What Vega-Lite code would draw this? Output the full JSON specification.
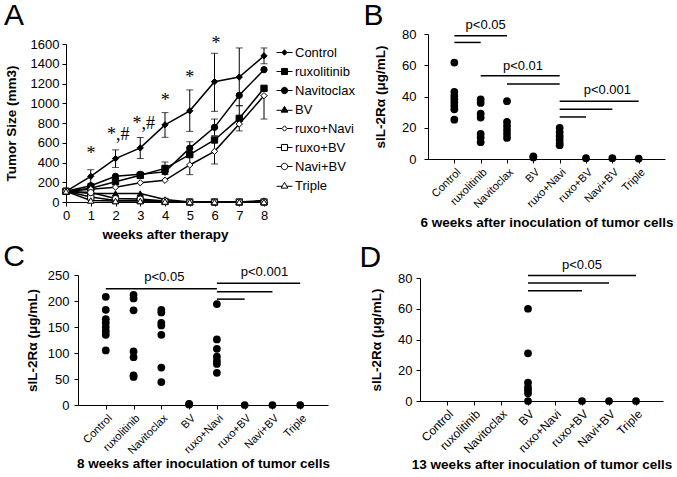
{
"$schema": "https://vega.github.io/schema/vega-lite/v6.json",
"padding": {"left": 0, "top": 0, "right": 0, "bottom": 0},
"background": "white",
"config": {
 "font": "Liberation Sans",
 "view": {"stroke": null},
 "axis": {"grid": false, "domainColor": "black", "tickColor": "black", "labelColor": "black", "titleColor": "black", "labelFontSize": 13, "titleFontSize": 13.5, "titleFontWeight": "bold", "labelFont": "Liberation Sans", "titleFont": "Liberation Sans", "labelFlush": false, "labelOverlap": false, "tickSize": 4},
 "title": {"font": "Liberation Sans", "fontSize": 30, "fontWeight": "normal", "anchor": "start", "frame": "bounds", "color": "black"},
 "legend": {"labelFont": "Liberation Sans", "labelColor": "black"}
},
"datasets": {
 "tumor": [
  {"s":"Control","w":0,"v":108},{"s":"Control","w":1,"v":260},{"s":"Control","w":2,"v":440},{"s":"Control","w":3,"v":548},{"s":"Control","w":4,"v":781},{"s":"Control","w":5,"v":923},{"s":"Control","w":6,"v":1218},{"s":"Control","w":7,"v":1265},{"s":"Control","w":8,"v":1480},
  {"s":"ruxolitinib","w":0,"v":108},{"s":"ruxolitinib","w":1,"v":140},{"s":"ruxolitinib","w":2,"v":205},{"s":"ruxolitinib","w":3,"v":270},{"s":"ruxolitinib","w":4,"v":340},{"s":"ruxolitinib","w":5,"v":480},{"s":"ruxolitinib","w":6,"v":628},{"s":"ruxolitinib","w":7,"v":847},{"s":"ruxolitinib","w":8,"v":1151},
  {"s":"Navitoclax","w":0,"v":108},{"s":"Navitoclax","w":1,"v":165},{"s":"Navitoclax","w":2,"v":260},{"s":"Navitoclax","w":3,"v":280},{"s":"Navitoclax","w":4,"v":305},{"s":"Navitoclax","w":5,"v":545},{"s":"Navitoclax","w":6,"v":756},{"s":"Navitoclax","w":7,"v":1080},{"s":"Navitoclax","w":8,"v":1340},
  {"s":"BV","w":0,"v":108},{"s":"BV","w":1,"v":85},{"s":"BV","w":2,"v":85},{"s":"BV","w":3,"v":85},{"s":"BV","w":4,"v":25},{"s":"BV","w":5,"v":0},{"s":"BV","w":6,"v":0},{"s":"BV","w":7,"v":0},{"s":"BV","w":8,"v":15},
  {"s":"ruxo+Navi","w":0,"v":108},{"s":"ruxo+Navi","w":1,"v":130},{"s":"ruxo+Navi","w":2,"v":150},{"s":"ruxo+Navi","w":3,"v":195},{"s":"ruxo+Navi","w":4,"v":220},{"s":"ruxo+Navi","w":5,"v":375},{"s":"ruxo+Navi","w":6,"v":513},{"s":"ruxo+Navi","w":7,"v":790},{"s":"ruxo+Navi","w":8,"v":1077},
  {"s":"ruxo+BV","w":0,"v":108},{"s":"ruxo+BV","w":1,"v":50},{"s":"ruxo+BV","w":2,"v":15},{"s":"ruxo+BV","w":3,"v":15},{"s":"ruxo+BV","w":4,"v":5},{"s":"ruxo+BV","w":5,"v":0},{"s":"ruxo+BV","w":6,"v":0},{"s":"ruxo+BV","w":7,"v":0},{"s":"ruxo+BV","w":8,"v":0},
  {"s":"Navi+BV","w":0,"v":108},{"s":"Navi+BV","w":1,"v":95},{"s":"Navi+BV","w":2,"v":35},{"s":"Navi+BV","w":3,"v":30},{"s":"Navi+BV","w":4,"v":10},{"s":"Navi+BV","w":5,"v":0},{"s":"Navi+BV","w":6,"v":0},{"s":"Navi+BV","w":7,"v":0},{"s":"Navi+BV","w":8,"v":0},
  {"s":"Triple","w":0,"v":108},{"s":"Triple","w":1,"v":15},{"s":"Triple","w":2,"v":10},{"s":"Triple","w":3,"v":10},{"s":"Triple","w":4,"v":5},{"s":"Triple","w":5,"v":0},{"s":"Triple","w":6,"v":0},{"s":"Triple","w":7,"v":0},{"s":"Triple","w":8,"v":0}
 ],
 "tumorErr": [
  {"s":"Control","w":1,"lo":185,"hi":327},{"s":"Control","w":2,"lo":350,"hi":528},{"s":"Control","w":3,"lo":440,"hi":653},{"s":"Control","w":4,"lo":655,"hi":905},{"s":"Control","w":5,"lo":715,"hi":1135},{"s":"Control","w":6,"lo":918,"hi":1506},{"s":"Control","w":7,"lo":975,"hi":1560},{"s":"Control","w":8,"lo":1400,"hi":1560},
  {"s":"ruxolitinib","w":4,"lo":280,"hi":405},{"s":"ruxolitinib","w":7,"lo":720,"hi":975},
  {"s":"Navitoclax","w":5,"lo":480,"hi":610},{"s":"Navitoclax","w":6,"lo":672,"hi":840},
  {"s":"ruxo+Navi","w":5,"lo":277,"hi":475},{"s":"ruxo+Navi","w":6,"lo":385,"hi":640},{"s":"ruxo+Navi","w":8,"lo":840,"hi":1077}
 ],
 "stars": [
  {"w":1.01,"v":513,"t":"*"},{"w":2.11,"v":706,"t":"*,#"},{"w":3.14,"v":823,"t":"*,#"},{"w":4.01,"v":1050,"t":"*"},{"w":5.0,"v":1286,"t":"*"},{"w":6.06,"v":1633,"t":"*"}
 ],
 "B": [
  {"g":"Control","v":61.7},{"g":"Control","v":43},{"g":"Control","v":40.4},{"g":"Control","v":38.3},{"g":"Control","v":36.1},{"g":"Control","v":34},{"g":"Control","v":31.8},{"g":"Control","v":25.2},
  {"g":"ruxolitinib","v":38.1},{"g":"ruxolitinib","v":35.9},{"g":"ruxolitinib","v":29},{"g":"ruxolitinib","v":26.5},{"g":"ruxolitinib","v":16.1},{"g":"ruxolitinib","v":13.8},{"g":"ruxolitinib","v":10.8},
  {"g":"Navitoclax","v":37},{"g":"Navitoclax","v":23.7},{"g":"Navitoclax","v":21.1},{"g":"Navitoclax","v":18.5},{"g":"Navitoclax","v":16.1},{"g":"Navitoclax","v":13.5},
  {"g":"BV","v":1.7},{"g":"BV","v":1.0},
  {"g":"ruxo+Navi","v":20},{"g":"ruxo+Navi","v":17.2},{"g":"ruxo+Navi","v":14.6},{"g":"ruxo+Navi","v":12.5},{"g":"ruxo+Navi","v":10.3},{"g":"ruxo+Navi","v":8.8},
  {"g":"ruxo+BV","v":0.5},{"g":"Navi+BV","v":0.5},{"g":"Triple","v":0.3}
 ],
 "Bsig": [
  {"g":"Control","b":"ruxolitinib","v":74.6},{"g":"Control","b":"Navitoclax","v":78.9},{"g":"ruxolitinib","b":"ruxo+Navi","v":53.3},{"g":"Navitoclax","b":"ruxo+Navi","v":48},{"g":"ruxo+Navi","b":"Triple","v":37},{"g":"ruxo+Navi","b":"Navi+BV","v":31.8},{"g":"ruxo+Navi","b":"ruxo+BV","v":26.9}
 ],
 "C": [
  {"g":"Control","v":208},{"g":"Control","v":183},{"g":"Control","v":165},{"g":"Control","v":158},{"g":"Control","v":150},{"g":"Control","v":142},{"g":"Control","v":135},{"g":"Control","v":105},
  {"g":"ruxolitinib","v":212},{"g":"ruxolitinib","v":205},{"g":"ruxolitinib","v":182},{"g":"ruxolitinib","v":103},{"g":"ruxolitinib","v":92},{"g":"ruxolitinib","v":57},{"g":"ruxolitinib","v":54},
  {"g":"Navitoclax","v":183},{"g":"Navitoclax","v":178},{"g":"Navitoclax","v":158},{"g":"Navitoclax","v":153},{"g":"Navitoclax","v":135},{"g":"Navitoclax","v":72},{"g":"Navitoclax","v":44},
  {"g":"BV","v":2},{"g":"BV","v":1},
  {"g":"ruxo+Navi","v":194},{"g":"ruxo+Navi","v":126},{"g":"ruxo+Navi","v":108},{"g":"ruxo+Navi","v":93},{"g":"ruxo+Navi","v":85},{"g":"ruxo+Navi","v":79},{"g":"ruxo+Navi","v":62},
  {"g":"ruxo+BV","v":0},{"g":"Navi+BV","v":0},{"g":"Triple","v":0}
 ],
 "Csig": [
  {"g":"Control","b":"ruxo+Navi","v":223.5},{"g":"ruxo+Navi","b":"Triple","v":234},{"g":"ruxo+Navi","b":"Navi+BV","v":218},{"g":"ruxo+Navi","b":"ruxo+BV","v":203.6}
 ],
 "D": [
  {"g":"BV","v":60},{"g":"BV","v":31},{"g":"BV","v":12},{"g":"BV","v":9},{"g":"BV","v":7},{"g":"BV","v":5},{"g":"BV","v":0},
  {"g":"ruxo+BV","v":0},{"g":"Navi+BV","v":0},{"g":"Triple","v":0}
 ],
 "Dsig": [
  {"g":"BV","b":"Triple","v":81.7},{"g":"BV","b":"Navi+BV","v":76.7},{"g":"BV","b":"ruxo+BV","v":71.7}
 ]
},
"spacing": -12,
"vconcat": [
 {"hconcat": [
  {"hconcat": [
   {"width": 1, "height": 1, "data": {"values": []}, "mark": "point", "encoding": {}},
   {"vconcat": [
    {"width": 1, "height": 1, "data": {"values": []}, "mark": "point", "encoding": {}},
    {
     "title": {"text": "A", "offset": 3.5},
     "width": 198, "height": 158,
     "encoding": {
      "x": {"field": "w", "type": "quantitative", "scale": {"domain": [0, 8], "nice": false}, "axis": {"values": [0,1,2,3,4,5,6,7,8], "title": "weeks after therapy", "labelPadding": 3, "titlePadding": 5}},
      "y": {"field": "v", "type": "quantitative", "scale": {"domain": [0, 1600], "nice": false}, "axis": {"values": [0,200,400,600,800,1000,1200,1400,1600], "format": "d", "title": "Tumor Size (mm3)", "labelPadding": 3, "titlePadding": 12}}
     },
     "layer": [
      {"data": {"name": "tumorErr"}, "mark": {"type": "rule", "color": "black", "strokeWidth": 1}, "encoding": {"y": {"field": "lo", "type": "quantitative", "title": "Tumor Size (mm3)"}, "y2": {"field": "hi"}}},
      {"data": {"name": "tumorErr"}, "mark": {"type": "tick", "orient": "horizontal", "size": 7, "thickness": 1, "color": "black"}, "encoding": {"y": {"field": "lo", "type": "quantitative", "title": "Tumor Size (mm3)"}}},
      {"data": {"name": "tumorErr"}, "mark": {"type": "tick", "orient": "horizontal", "size": 7, "thickness": 1, "color": "black"}, "encoding": {"y": {"field": "hi", "type": "quantitative", "title": "Tumor Size (mm3)"}}},
      {"data": {"name": "tumor"}, "mark": {"type": "line", "color": "black", "strokeWidth": 1.5}, "encoding": {"detail": {"field": "s", "type": "nominal"}}},
      {"data": {"name": "tumor"}, "mark": {"type": "point", "filled": true, "stroke": "black", "strokeWidth": 1, "size": 40, "opacity": 1},
       "encoding": {
        "shape": {"field": "s", "type": "nominal", "scale": {"domain": ["Control","ruxolitinib","Navitoclax","BV","ruxo+Navi","ruxo+BV","Navi+BV","Triple"], "range": ["diamond","square","circle","triangle-up","diamond","square","circle","triangle-up"]}, "legend": null},
        "fill": {"field": "s", "type": "nominal", "scale": {"domain": ["Control","ruxolitinib","Navitoclax","BV","ruxo+Navi","ruxo+BV","Navi+BV","Triple"], "range": ["black","black","black","black","white","white","white","white"]}, "legend": null}
       }},
      {"data": {"values": []}, "mark": {"type": "point", "filled": true, "stroke": "black", "strokeWidth": 1, "opacity": 1},
       "encoding": {
        "shape": {"field": "s", "type": "nominal", "scale": {"domain": ["Control","ruxolitinib","Navitoclax","BV","ruxo+Navi","ruxo+BV","Navi+BV","Triple"], "range": [
          "M-1,0H-0.32M0.32,0H1M0,-0.34L0.32,0L0,0.34L-0.32,0Z",
          "M-1,0H-0.38M0.38,0H1M-0.38,-0.38H0.38V0.38H-0.38Z",
          "M-1,0H-0.4M0.4,0H1M-0.4,0A0.4,0.4,0,1,0,0.4,0A0.4,0.4,0,1,0,-0.4,0Z",
          "M-1,0.1H-0.28M0.28,0.1H1M0,-0.4L0.42,0.33L-0.42,0.33Z",
          "M-1,0H-0.32M0.32,0H1M0,-0.34L0.32,0L0,0.34L-0.32,0Z",
          "M-1,0H-0.38M0.38,0H1M-0.38,-0.38H0.38V0.38H-0.38Z",
          "M-1,0H-0.4M0.4,0H1M-0.4,0A0.4,0.4,0,1,0,0.4,0A0.4,0.4,0,1,0,-0.4,0Z",
          "M-1,0.1H-0.28M0.28,0.1H1M0,-0.4L0.42,0.33L-0.42,0.33Z"]},
         "legend": {"title": null, "orient": "right", "offset": 9, "padding": 0, "labelFontSize": 13, "symbolSize": 256, "rowPadding": 3, "labelOffset": 2, "symbolStrokeWidth": 1}},
        "fill": {"field": "s", "type": "nominal", "scale": {"domain": ["Control","ruxolitinib","Navitoclax","BV","ruxo+Navi","ruxo+BV","Navi+BV","Triple"], "range": ["black","black","black","black","white","white","white","white"]},
         "legend": {"title": null, "orient": "right", "offset": 9, "padding": 0, "labelFontSize": 13, "symbolSize": 256, "rowPadding": 3, "labelOffset": 2, "symbolStrokeWidth": 1}}
       }},
      {"data": {"name": "stars"}, "mark": {"type": "text", "font": "Liberation Serif", "fontSize": 18, "baseline": "middle", "dy": 3, "color": "black"}, "encoding": {"text": {"field": "t"}}}
     ],
     "resolve": {"scale": {"shape": "independent", "fill": "independent"}}
    }
   ], "spacing": 0}
  ], "spacing": 3},
  {"vconcat": [
   {"width": 1, "height": 1, "data": {"values": []}, "mark": "point", "encoding": {}},
   {
    "title": {"text": "B", "offset": -12.5, "dx": -10},
    "width": 237, "height": 125,
    "encoding": {
     "x": {"field": "g", "type": "nominal", "scale": {"type": "point", "domain": ["Control","ruxolitinib","Navitoclax","BV","ruxo+Navi","ruxo+BV","Navi+BV","Triple"], "padding": 1}, "axis": {"title": "6 weeks after inoculation of tumor cells", "labelAngle": -45, "labelFontSize": 11, "labelPadding": 3, "titlePadding": 6}},
     "y": {"field": "v", "type": "quantitative", "scale": {"domain": [0, 80], "nice": false}, "axis": {"values": [0,20,40,60,80], "title": "sIL-2Rα (μg/mL)", "labelPadding": 8, "titlePadding": 14}}
    },
    "layer": [
     {"data": {"name": "Bsig"}, "mark": {"type": "rule", "color": "black", "strokeWidth": 1.5}, "encoding": {"x2": {"field": "b"}}},
     {"data": {"name": "B"}, "mark": {"type": "circle", "size": 60, "color": "black", "opacity": 1}},
     {"data": {"values": [{"g": "ruxolitinib", "v": 86, "t": "p<0.05"}]}, "mark": {"type": "text", "fontSize": 13, "dx": 5, "color": "black"}, "encoding": {"text": {"field": "t"}}},
     {"data": {"values": [{"g": "Navitoclax", "v": 59.8, "t": "p<0.01"}]}, "mark": {"type": "text", "fontSize": 13, "dx": 16, "color": "black"}, "encoding": {"text": {"field": "t"}}},
     {"data": {"values": [{"g": "Navi+BV", "v": 44, "t": "p<0.001"}]}, "mark": {"type": "text", "fontSize": 13, "dx": -5, "color": "black"}, "encoding": {"text": {"field": "t"}}}
    ]
   }
  ], "spacing": 0}
 ], "spacing": 8},
 {"hconcat": [
  {"hconcat": [
   {"width": 1, "height": 1, "data": {"values": []}, "mark": "point", "encoding": {}},
   {"vconcat": [
    {"width": 1, "height": 1, "data": {"values": []}, "mark": "point", "encoding": {}},
    {
     "title": {"text": "C", "offset": -6, "dx": -22},
     "width": 250, "height": 130,
     "encoding": {
      "x": {"field": "g", "type": "nominal", "scale": {"type": "point", "domain": ["Control","ruxolitinib","Navitoclax","BV","ruxo+Navi","ruxo+BV","Navi+BV","Triple"], "padding": 1}, "axis": {"title": "8 weeks after inoculation of tumor cells", "labelAngle": -45, "labelFontSize": 11, "labelPadding": 3, "titlePadding": 1}},
      "y": {"field": "v", "type": "quantitative", "scale": {"domain": [0, 250], "nice": false}, "axis": {"values": [0,50,100,150,200,250], "title": "sIL-2Rα (μg/mL)", "labelPadding": 5, "titlePadding": 8}}
     },
     "layer": [
      {"data": {"name": "Csig"}, "mark": {"type": "rule", "color": "black", "strokeWidth": 1.5}, "encoding": {"x2": {"field": "b"}}},
      {"data": {"name": "C"}, "mark": {"type": "circle", "size": 60, "color": "black", "opacity": 1}},
      {"data": {"values": [{"g": "Navitoclax", "v": 247, "t": "p<0.05"}]}, "mark": {"type": "text", "fontSize": 13, "dx": 3, "color": "black"}, "encoding": {"text": {"field": "t"}}},
      {"data": {"values": [{"g": "Navi+BV", "v": 255, "t": "p<0.001"}]}, "mark": {"type": "text", "fontSize": 13, "dx": -8, "color": "black"}, "encoding": {"text": {"field": "t"}}}
     ]
    }
   ], "spacing": 0}
  ], "spacing": 2},
  {"vconcat": [
   {"width": 1, "height": 1, "data": {"values": []}, "mark": "point", "encoding": {}},
   {
    "title": {"text": "D", "offset": -14, "dx": -10},
    "width": 243, "height": 123,
    "encoding": {
     "x": {"field": "g", "type": "nominal", "scale": {"type": "point", "domain": ["Control","ruxolitinib","Navitoclax","BV","ruxo+Navi","ruxo+BV","Navi+BV","Triple"], "padding": 1}, "axis": {"title": "13 weeks after inoculation of tumor cells", "labelAngle": -45, "labelFontSize": 12, "labelPadding": 3, "titlePadding": 3}},
     "y": {"field": "v", "type": "quantitative", "scale": {"domain": [0, 80], "nice": false}, "axis": {"values": [0,20,40,60,80], "title": "sIL-2Rα (μg/mL)", "labelPadding": 4, "titlePadding": 14}}
    },
    "layer": [
     {"data": {"name": "Dsig"}, "mark": {"type": "rule", "color": "black", "strokeWidth": 1.5}, "encoding": {"x2": {"field": "b"}}},
     {"data": {"name": "D"}, "mark": {"type": "circle", "size": 60, "color": "black", "opacity": 1}},
     {"data": {"values": [{"g": "ruxo+BV", "v": 88.7, "t": "p<0.05"}]}, "mark": {"type": "text", "fontSize": 13, "color": "black"}, "encoding": {"text": {"field": "t"}}}
    ]
   }
  ], "spacing": 0}
 ], "spacing": 29}
]
}
